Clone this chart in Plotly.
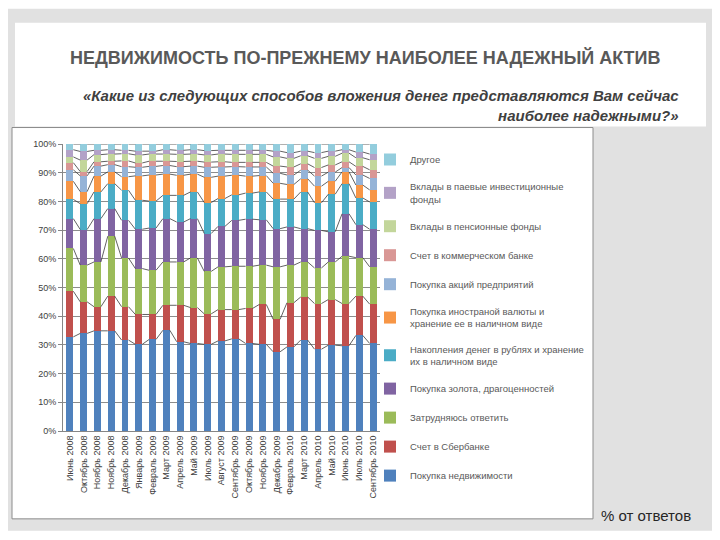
import numpy as np
import plotly.graph_objects as go

# --- data (% of answers) ---
months = ["Июнь 2008", "Октябрь 2008", "Ноябрь 2008", "Ноябрь 2008", "Декабрь 2008",
          "Январь 2009", "Февраль 2009", "Март 2009", "Апрель 2009", "Май 2009",
          "Июль 2009", "Август 2009", "Сентябрь 2009", "Октябрь 2009", "Ноябрь 2009",
          "Декабрь 2009", "Февраль 2010", "Март 2010", "Апрель 2010", "Май 2010",
          "Июнь 2010", "Июль 2010", "Сентябрь 2010"]

realty = [32.8, 34.0, 34.9, 34.9, 31.7, 30.2, 31.9, 35.1, 31.1, 30.5, 30.2, 31.4,
          32.1, 30.5, 30.2, 27.6, 29.3, 31.7, 28.5, 29.9, 29.7, 33.3, 30.5]
sberbank = [15.9, 11.0, 8.4, 12.1, 11.6, 10.4, 8.7, 8.7, 12.7, 12.5, 10.6, 10.9,
            10.2, 12.2, 13.9, 11.3, 15.4, 15.0, 15.9, 15.9, 14.7, 13.7, 13.7]
no_answer = [14.9, 12.8, 15.6, 20.9, 17.0, 16.0, 15.4, 15.1, 15.1, 17.3, 14.8, 14.9,
             15.1, 14.7, 13.7, 18.3, 13.1, 12.2, 12.4, 13.1, 16.5, 13.4, 13.0]
gold = [10.4, 12.4, 15.1, 9.6, 13.1, 13.7, 14.7, 15.1, 13.9, 13.7, 13.2, 14.1,
        16.0, 16.4, 15.8, 13.3, 13.3, 11.6, 13.1, 10.5, 14.8, 11.5, 13.1]
rubles_cash = [6.7, 9.0, 9.3, 8.7, 10.5, 10.1, 9.4, 8.1, 9.3, 9.3, 10.8, 9.7,
               8.9, 9.1, 9.7, 10.3, 9.7, 12.8, 9.6, 13.1, 10.5, 9.3, 9.5]
fx_cash = [6.3, 4.2, 5.5, 4.1, 4.7, 8.5, 9.1, 7.4, 7.0, 6.2, 8.8, 7.8,
           6.8, 5.9, 5.7, 5.5, 5.1, 4.6, 5.8, 4.5, 4.1, 4.5, 4.2]
shares = [4.0, 5.5, 3.5, 2.5, 3.5, 3.0, 3.0, 3.0, 3.0, 2.8, 3.5, 3.2,
          3.0, 3.2, 3.0, 3.5, 3.3, 3.0, 3.5, 3.2, 1.5, 3.5, 4.0]
comm_bank = [2.5, 1.5, 1.5, 1.2, 2.0, 1.5, 1.8, 1.5, 1.8, 1.7, 1.8, 1.8,
             1.5, 1.6, 1.6, 2.5, 2.8, 2.2, 3.0, 2.5, 2.0, 3.0, 3.0]
pension = [2.0, 4.0, 2.5, 2.5, 2.5, 2.8, 2.5, 2.5, 2.5, 2.5, 2.5, 2.7,
           2.8, 2.8, 2.8, 3.2, 3.0, 2.8, 3.2, 3.0, 3.0, 3.0, 3.5]
mutual_funds = [2.5, 3.0, 1.5, 1.5, 1.2, 1.3, 1.0, 1.5, 1.4, 1.5, 1.5, 1.3,
                1.4, 1.4, 1.4, 2.0, 2.0, 1.6, 2.0, 1.8, 1.2, 2.0, 2.0]
other = [2.0, 2.6, 2.2, 2.0, 2.2, 2.5, 2.5, 2.0, 2.2, 2.0, 2.3, 2.2,
         2.2, 2.2, 2.2, 2.5, 3.0, 2.5, 3.0, 2.5, 2.0, 2.8, 3.5]

series = [
    ("Покупка недвижимости", realty, "#4F81BD"),
    ("Счет в Сбербанке", sberbank, "#C0504D"),
    ("Затрудняюсь ответить", no_answer, "#9BBB59"),
    ("Покупка золота, драгоценностей", gold, "#8064A2"),
    ("Накопления денег в рублях и хранение<br>их в наличном виде", rubles_cash, "#4BACC6"),
    ("Покупка иностраной валюты и<br>хранение ее в наличном виде", fx_cash, "#F79646"),
    ("Покупка акций предприятий", shares, "#95B3D7"),
    ("Счет в коммерческом банке", comm_bank, "#D99795"),
    ("Вклады в пенсионные фонды", pension, "#C3D69B"),
    ("Вклады в паевые инвестиционные<br>фонды", mutual_funds, "#B3A2C7"),
    ("Другое", other, "#93CDDD"),
]

x = np.arange(len(months))
BAR_W = 0.5

# page body has an 8px margin, so figure pixels = screen pixels - 8
OFF = 8
# plot area on screen (as in the picture)
PL, PR, PT, PB = 63 - OFF, 380 - OFF, 143.5 - OFF, 431 - OFF
PW, PH = PR - PL, PB - PT


def px_x(v):
    return (v - OFF - PL) / PW


def px_y(v):
    return (PB - (v - OFF)) / PH


fig = go.Figure()
for i, (name, vals, color) in enumerate(series):
    fig.add_trace(go.Bar(x=x, y=vals, name=name, marker_color=color,
                         marker_line_width=0, width=BAR_W,
                         legendgroup=str(i), legendrank=1000 - i * 10))

# series lines (Excel style), drawn between neighbouring bars
values = np.array([s[1] for s in series], dtype=float)
cum = np.cumsum(values / values.sum(axis=0) * 100, axis=0)
lx, ly = [], []
for row in cum:
    for i in range(len(x) - 1):
        lx += [x[i] + BAR_W / 2, x[i + 1] - BAR_W / 2, None]
        ly += [row[i], row[i + 1], None]
fig.add_trace(go.Scatter(x=lx, y=ly, mode="lines", line=dict(color="#3a3a3a", width=0.8),
                         showlegend=False, hoverinfo="skip"))

# slide frame, header panel and chart box
fig.add_shape(type="rect", xref="paper", yref="paper", x0=px_x(5), x1=px_x(714),
              y0=px_y(531), y1=px_y(8), fillcolor="#E1E1E1", line_width=0, layer="below")
fig.add_shape(type="rect", xref="paper", yref="paper", x0=px_x(15), x1=px_x(706),
              y0=px_y(126), y1=px_y(22), fillcolor="white", line_width=0, layer="below")
fig.add_shape(type="rect", xref="paper", yref="paper", x0=px_x(12), x1=px_x(593),
              y0=px_y(519), y1=px_y(127), fillcolor="white",
              line=dict(color="#8C8C8C", width=1), layer="below")

fig.add_annotation(text="<b>НЕДВИЖИМОСТЬ ПО-ПРЕЖНЕМУ НАИБОЛЕЕ НАДЕЖНЫЙ АКТИВ</b>",
                   xref="paper", yref="paper", x=px_x(365), y=px_y(57),
                   showarrow=False, xanchor="center", yanchor="middle",
                   font=dict(family="Liberation Sans, Arial", size=18, color="#595959"))
fig.add_annotation(text="<b><i>«Какие из следующих способов вложения денег представляются Вам сейчас"
                        "<br>наиболее надежными?»</i></b>",
                   xref="paper", yref="paper", x=px_x(681), y=px_y(105),
                   showarrow=False, xanchor="right", yanchor="middle", align="right",
                   font=dict(family="Liberation Sans, Arial", size=15, color="#404040"))
fig.add_annotation(text="% от ответов", xref="paper", yref="paper",
                   x=px_x(599), y=px_y(516),
                   showarrow=False, xanchor="left", yanchor="middle",
                   font=dict(family="Liberation Sans", size=15, color="#262626"))

fig.update_layout(
    width=720, height=540,
    margin=dict(l=PL, r=720 - PR, t=PT, b=540 - PB, autoexpand=False),
    barmode="stack", barnorm="percent", bargap=0.5,
    paper_bgcolor="white", plot_bgcolor="#E7E5EC",
    font=dict(family="Liberation Sans, Arial", color="#404040"),
    legend=dict(xref="container", yref="container", x=(370 - OFF) / 720,
                y=1 - (145 - OFF) / 540, xanchor="left", yanchor="top",
                traceorder="grouped", tracegroupgap=10, maxheight=420,
                font=dict(size=9.5, color="#595959"),
                bgcolor="rgba(0,0,0,0)", itemwidth=30),
    showlegend=True,
)
fig.update_xaxes(range=[-0.5, len(months) - 0.5], tickvals=x, ticktext=months,
                 tickangle=-90, tickfont=dict(size=9, color="#404040"), automargin=False,
                 showgrid=False, showline=True, linecolor="#868686", ticks="", zeroline=False)
fig.update_yaxes(range=[0, 100], dtick=10, ticksuffix="%", tickfont=dict(size=9, color="#404040"),
                 automargin=False, showgrid=True, gridcolor="#8C8C8C", gridwidth=1, showline=True,
                 linecolor="#868686", ticks="outside", ticklen=4, tickcolor="#868686",
                 zeroline=False)

fig.write_html("out.html")
